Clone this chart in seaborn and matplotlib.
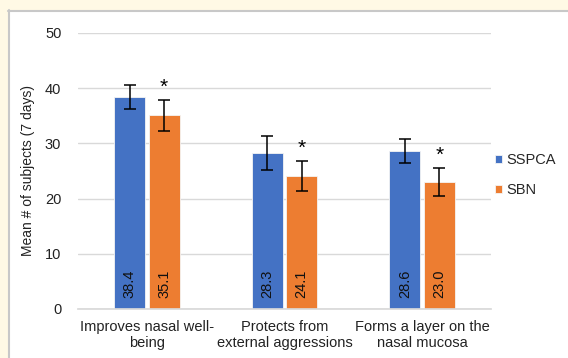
import matplotlib
matplotlib.use("Agg")
import matplotlib.pyplot as plt
from matplotlib.patches import Rectangle
import seaborn as sns
import pandas as pd
import numpy as np

categories = ["Improves nasal well-\nbeing", "Protects from\nexternal aggressions",
              "Forms a layer on the\nnasal mucosa"]
series_names = ["SSPCA", "SBN"]
sspca_mean = [38.4, 28.3, 28.6]
sbn_mean = [35.1, 24.1, 23.0]
sspca_err = [2.1, 3.1, 2.2]
sbn_err = [2.8, 2.8, 2.6]
significant = ["*", "*", "*"]
y_ticks = [0, 10, 20, 30, 40, 50]

df = pd.DataFrame({
    "category": categories * 2,
    "group": [series_names[0]] * 3 + [series_names[1]] * 3,
    "value": sspca_mean + sbn_mean,
    "err": sspca_err + sbn_err,
})

sns.set_theme(style="white")
plt.rcParams["font.family"] = ["Liberation Sans", "DejaVu Sans"]

fig = plt.figure(figsize=(5.68, 3.58), dpi=100)
fig.patch.set_facecolor("#FFF9E5")
# white panel with a grey frame on top and left
fig.patches.append(Rectangle((8 / 568, 0), 1, 1 - 10 / 358, transform=fig.transFigure,
                             facecolor="white", edgecolor="none", zorder=-10))
fig.lines.append(plt.Line2D([8 / 568, 1], [1 - 10.5 / 358] * 2, transform=fig.transFigure,
                            color="#C8C8C8", lw=1.5, zorder=-5))
fig.lines.append(plt.Line2D([8.5 / 568] * 2, [0, 1 - 10 / 358], transform=fig.transFigure,
                            color="#C8C8C8", lw=1.5, zorder=-5))

ax = fig.add_axes([78 / 568, 1 - 309 / 358, 413 / 568, 276 / 358])
ax.set_facecolor("white")

palette = {"SSPCA": "#4472C4", "SBN": "#ED7D31"}
sns.barplot(data=df, x="category", y="value", hue="group", palette=palette,
            width=0.5, gap=0.1, errorbar=None, ax=ax, legend=True,
            edgecolor="#F4F4F4", linewidth=0.6, saturation=1)

# error bars, value labels and significance marks
bars = [p for p in ax.patches if p.get_height() > 0]
bars = sorted(bars, key=lambda p: p.get_x())
order = []
for i in range(3):
    order.append((sspca_mean[i], sspca_err[i], None))
    order.append((sbn_mean[i], sbn_err[i], significant[i]))
for bar, (val, err, mark) in zip(bars, order):
    cx = bar.get_x() + bar.get_width() / 2
    ax.errorbar(cx, val, yerr=err, fmt="none", ecolor="black", elinewidth=1.1,
                capsize=4, capthick=1.1, zorder=5)
    ax.annotate(f"{val:.1f}", (cx, 0), xytext=(0, 8), textcoords="offset points",
                rotation=90, ha="center", va="bottom", fontsize=10.5, color="#111111")
    if mark:
        ax.annotate(mark, (cx, val + err), xytext=(0, 2), textcoords="offset points",
                    ha="center", va="bottom", fontsize=15, color="black")

ax.set_ylim(0, 50)
ax.set_yticks(y_ticks)
ax.set_xlim(-0.5, 2.5)
ax.grid(axis="y", color="#D9D9D9", lw=1)
ax.set_axisbelow(True)
for s in ["top", "right", "left"]:
    ax.spines[s].set_visible(False)
ax.spines["bottom"].set_color("#D9D9D9")
ax.tick_params(axis="both", length=0, labelsize=10.5, colors="#222222")
ax.tick_params(axis="x", pad=8)
ax.tick_params(axis="y", pad=12)
ax.set_xlabel("")
ax.set_ylabel("Mean # of subjects (7 days)", fontsize=10, color="#222222", labelpad=7)

leg = ax.legend(loc="center left", bbox_to_anchor=(0.995, 0.485), frameon=False,
                fontsize=10.5, handlelength=0.5, handleheight=0.5, handletextpad=0.3,
                labelspacing=1.1, borderaxespad=0.0)

fig.savefig("out.png", dpi=100, facecolor=fig.get_facecolor())
